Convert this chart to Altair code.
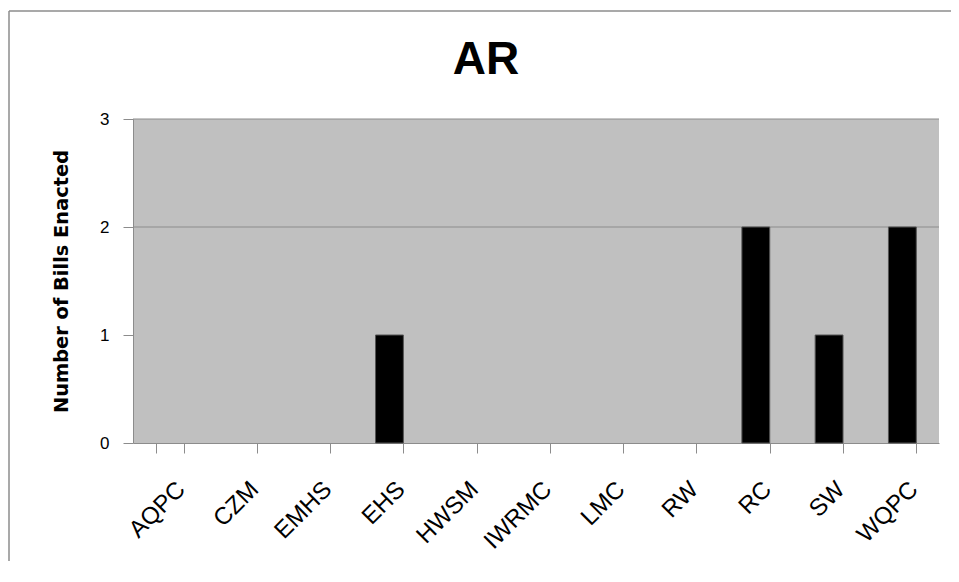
import altair as alt
import pandas as pd

categories = ["AQPC", "CZM", "EMHS", "EHS", "HWSM", "IWRMC", "LMC", "RW", "RC", "SW", "WQPC"]
bills = [0, 0, 0, 1, 0, 0, 0, 0, 2, 1, 2]
grid_values = [2, 3]
y_ticks = [0, 1, 2, 3]
title_text = ["AR"]

df = pd.DataFrame({"category": categories, "bills": bills})
grid_df = pd.DataFrame({"g": grid_values})
frame_df = pd.DataFrame({"f": [0]})
title_df = pd.DataFrame({"t": title_text})

FONT = "Liberation Sans"

x_enc = alt.X(
    "category:N",
    sort=categories,
    scale=alt.Scale(domain=categories, paddingInner=0.62, paddingOuter=0.31),
    axis=alt.Axis(
        title=None,
        labelAngle=-45,
        labelAlign="right",
        labelBaseline="top",
        labelFontSize=24,
        labelFont=FONT,
        labelColor="black",
        labelPadding=24,
        labelOffset=3,
        tickBand="extent",
        tickSize=10,
        tickColor="#8c8c8c",
        domainColor="#8c8c8c",
        labelOverlap=False,
    ),
)

y_scale = alt.Scale(domain=[0, 3], nice=False)

bars = alt.Chart(df).mark_bar(color="black", stroke="#555555").encode(
    x=x_enc,
    y=alt.Y(
        "bills:Q",
        scale=y_scale,
        axis=alt.Axis(
            title="Number of Bills Enacted",
            titleFont="DejaVu Sans",
            titleFontSize=19.4,
            titleFontWeight="bold",
            titleColor="black",
            titlePadding=28,
            values=y_ticks,
            format="d",
            labelFontSize=17,
            labelFont=FONT,
            labelColor="black",
            labelPadding=14,
            tickSize=10,
            tickColor="#8c8c8c",
            domainColor="#8c8c8c",
            grid=False,
        ),
    ),
    strokeWidth=alt.condition("datum.bills > 0", alt.value(1), alt.value(0)),
)

grid = alt.Chart(grid_df).mark_rule(color="#8c8c8c", strokeWidth=1).encode(
    y=alt.Y("g:Q", scale=y_scale)
)

frame_top = alt.Chart(frame_df).mark_rule(color="#8c8c8c", strokeWidth=1.5).encode(
    x=alt.value(-124),
    x2=alt.value(1200),
    y=alt.value(-108),
)
frame_left = alt.Chart(frame_df).mark_rule(color="#8c8c8c", strokeWidth=1.5).encode(
    x=alt.value(-124),
    y=alt.value(-108),
    y2=alt.value(900),
)

title = alt.Chart(title_df).mark_text(
    font=FONT, fontSize=46, fontWeight="bold", color="black",
    align="center", baseline="alphabetic",
).encode(
    text="t:N",
    x=alt.value(353),
    y=alt.value(-45),
)

chart = (
    alt.layer(frame_top, frame_left, grid, bars, title)
    .properties(
        width=806,
        height=324,
        autosize=alt.AutoSizeParams(type="none"),
        padding={"left": 125, "top": 111, "right": 12, "bottom": 118},
    )
    .configure(background="white")
    .configure_view(fill="#c0c0c0", stroke=None)
)

chart.save("out.html", embed_options={"renderer": "svg", "actions": False})
